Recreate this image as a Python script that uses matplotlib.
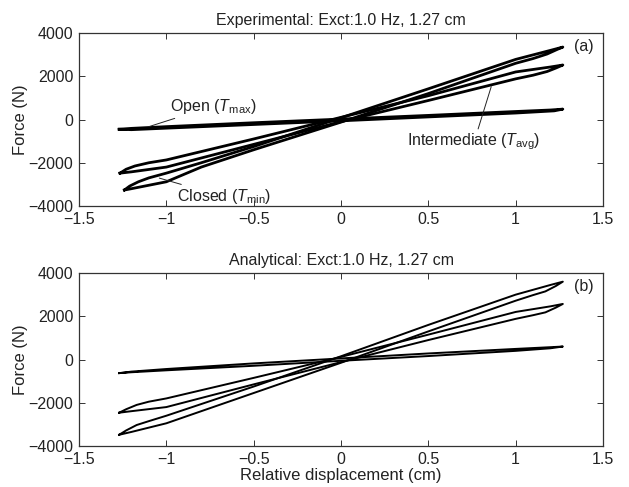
import matplotlib
matplotlib.use("Agg")
import matplotlib.pyplot as plt

plt.rcParams['font.family'] = ['Liberation Sans', 'DejaVu Sans']
plt.rcParams['mathtext.fontset'] = 'custom'
plt.rcParams['mathtext.rm'] = 'Liberation Sans'
plt.rcParams['mathtext.it'] = 'Liberation Sans:italic'

TXT = '#222222'

# ---- Experimental loops (panel a): upper branch left->right, lower branch right->left
exp_open_up_x = [-1.27, -1.2, -1.0, -0.5, 0.0, 0.5, 1.0, 1.2, 1.27]
exp_open_up_f = [-450, -410, -330, -150, 20, 190, 370, 440, 480]
exp_open_lo_x = [1.27, 1.22, 1.0, 0.5, 0.0, -0.5, -1.0, -1.2, -1.27]
exp_open_lo_f = [480, 400, 300, 120, -60, -230, -400, -470, -450]

exp_mid_up_x = [-1.265, -1.23, -1.18, -1.1, -1.0, -0.5, 0.0, 0.5, 1.0, 1.2, 1.27]
exp_mid_up_f = [-2480, -2300, -2150, -2000, -1870, -900, 100, 1100, 2200, 2430, 2520]
exp_mid_lo_x = [1.27, 1.23, 1.18, 1.1, 1.0, 0.5, 0.0, -0.5, -1.0, -1.2, -1.265]
exp_mid_lo_f = [2520, 2380, 2220, 2050, 1880, 880, -100, -1150, -2200, -2420, -2480]

exp_cls_up_x = [-1.24, -1.21, -1.16, -1.1, -1.0, -0.8, -0.5, 0.0, 0.5, 1.0, 1.2, 1.27]
exp_cls_up_f = [-3260, -3080, -2880, -2700, -2480, -2000, -1250, 80, 1420, 2780, 3200, 3350]
exp_cls_lo_x = [1.27, 1.24, 1.18, 1.1, 1.0, 0.5, 0.0, -0.5, -0.8, -1.0, -1.2, -1.24]
exp_cls_lo_f = [3350, 3250, 3030, 2820, 2600, 1200, -120, -1400, -2200, -2880, -3200, -3260]

# ---- Analytical loops (panel b)
ana_open_up_x = [-1.27, -1.2, -1.0, -0.5, 0.0, 0.5, 1.0, 1.2, 1.27]
ana_open_up_f = [-630, -560, -440, -180, 50, 280, 490, 570, 600]
ana_open_lo_x = [1.27, 1.2, 1.0, 0.5, 0.0, -0.5, -1.0, -1.2, -1.27]
ana_open_lo_f = [600, 520, 400, 160, -60, -290, -500, -590, -630]

ana_mid_up_x = [-1.27, -1.23, -1.17, -1.1, -1.0, -0.5, 0.0, 0.5, 1.0, 1.2, 1.27]
ana_mid_up_f = [-2460, -2300, -2100, -1950, -1800, -850, 120, 1150, 2200, 2460, 2570]
ana_mid_lo_x = [1.27, 1.23, 1.17, 1.1, 1.0, 0.5, 0.0, -0.5, -1.0, -1.2, -1.27]
ana_mid_lo_f = [2570, 2400, 2180, 2050, 1880, 900, -120, -1150, -2200, -2390, -2460]

ana_cls_up_x = [-1.27, -1.23, -1.17, -1.1, -1.0, -0.5, 0.0, 0.5, 1.0, 1.2, 1.27]
ana_cls_up_f = [-3480, -3280, -3030, -2850, -2600, -1250, 150, 1600, 3000, 3450, 3600]
ana_cls_lo_x = [1.27, 1.23, 1.17, 1.1, 1.0, 0.5, 0.0, -0.5, -1.0, -1.2, -1.27]
ana_cls_lo_f = [3600, 3400, 3150, 2980, 2720, 1300, -150, -1550, -2950, -3350, -3480]

x_ticks = [-1.5, -1.0, -0.5, 0.0, 0.5, 1.0, 1.5]
x_tick_labels = ['\u22121.5', '\u22121', '\u22120.5', '0', '0.5', '1', '1.5']
y_ticks = [-4000, -2000, 0, 2000, 4000]
y_tick_labels = ['\u22124000', '\u22122000', '0', '2000', '4000']

titles = ['Experimental: Exct:1.0 Hz, 1.27 cm', 'Analytical: Exct:1.0 Hz, 1.27 cm']
panel_tags = ['(a)', '(b)']

fig = plt.figure(figsize=(6.29, 4.87), dpi=100)
axL, axW, axH = 0.1256, 0.8331, 0.3552
ax_a = fig.add_axes([axL, 0.5770, axW, axH])
ax_b = fig.add_axes([axL, 0.0842, axW, axH])


def draw_loop(ax, ux, uf, lx, lf, lw):
    xs = ux + lx[1:] + [ux[0]]
    fs = uf + lf[1:] + [uf[0]]
    ax.plot(xs, fs, color='black', lw=lw, solid_joinstyle='round')


exp_loops = [(exp_open_up_x, exp_open_up_f, exp_open_lo_x, exp_open_lo_f),
             (exp_mid_up_x, exp_mid_up_f, exp_mid_lo_x, exp_mid_lo_f),
             (exp_cls_up_x, exp_cls_up_f, exp_cls_lo_x, exp_cls_lo_f)]
ana_loops = [(ana_open_up_x, ana_open_up_f, ana_open_lo_x, ana_open_lo_f),
             (ana_mid_up_x, ana_mid_up_f, ana_mid_lo_x, ana_mid_lo_f),
             (ana_cls_up_x, ana_cls_up_f, ana_cls_lo_x, ana_cls_lo_f)]

for loop in exp_loops:
    draw_loop(ax_a, *loop, lw=2.0)
for loop in ana_loops:
    draw_loop(ax_b, *loop, lw=1.4)

for ax, title, tag in zip([ax_a, ax_b], titles, panel_tags):
    ax.set_xlim(-1.5, 1.5)
    ax.set_ylim(-4000, 4000)
    ax.set_xticks(x_ticks)
    ax.set_xticklabels(x_tick_labels)
    ax.set_yticks(y_ticks)
    ax.set_yticklabels(y_tick_labels)
    ax.tick_params(direction='in', top=True, right=True, length=4, width=0.7,
                   labelsize=11.5, labelcolor=TXT, color='#333333', pad=4)
    for s in ax.spines.values():
        s.set_linewidth(0.9)
        s.set_color('#333333')
    ax.set_title(title, fontsize=11.5, color=TXT, pad=6)
    ax.set_ylabel('Force (N)', fontsize=12, color=TXT, labelpad=0)
    ax.text(0.964, 0.921, tag, transform=ax.transAxes, ha='center', va='center',
            fontsize=11.5, color=TXT)

ax_b.set_xlabel('Relative displacement (cm)', fontsize=12, color=TXT, labelpad=1)

arrow = dict(arrowstyle='-', color='#222222', lw=0.7, shrinkA=0, shrinkB=0)
ax_a.annotate('Open ($T_{\\mathrm{max}}$)', xy=(-1.10, -330), xytext=(-0.98, 620),
              ha='left', va='center', fontsize=11.5, color=TXT, arrowprops=arrow)
ax_a.annotate('Intermediate ($T_{\\mathrm{avg}}$)', xy=(0.86, 1520), xytext=(0.38, -1040),
              ha='left', va='center', fontsize=11.5, color=TXT, arrowprops=arrow)
ax_a.annotate('Closed ($T_{\\mathrm{min}}$)', xy=(-1.04, -2710), xytext=(-0.94, -3570),
              ha='left', va='center', fontsize=11.5, color=TXT, arrowprops=arrow)

fig.savefig('out.png', dpi=100)
